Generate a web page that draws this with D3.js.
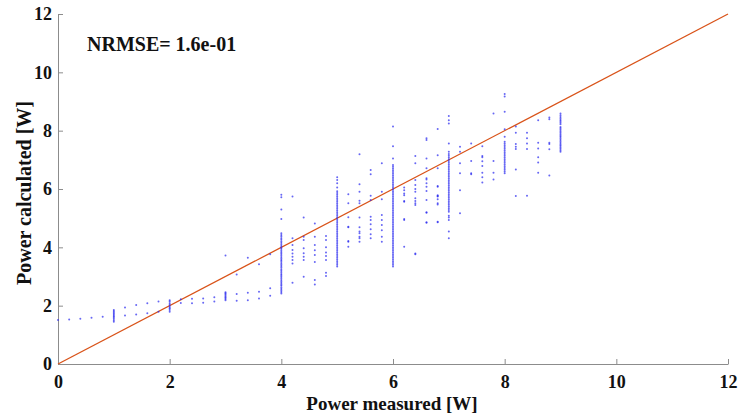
<!DOCTYPE html>
<html>
<head>
<meta charset="utf-8">
<script src="https://cdn.jsdelivr.net/npm/d3@7"></script>
<style>
  body { margin: 0; background: #fff; }
  svg text { font-family: "Liberation Serif", "Times New Roman", serif; font-weight: bold; }
</style>
</head>
<body>
<div id="wrapper"></div>
<script>
// measured power levels (x) and the calculated values read at each level (y)
const measuredLevels = [0, 0.2, 0.4, 0.6, 0.8, 1, 1.2, 1.4, 1.6, 1.8, 2, 2.2, 2.4, 2.6, 2.8, 3, 3.2, 3.4, 3.6, 3.8,
    4, 4.2, 4.4, 4.6, 4.8, 5, 5.2, 5.4, 5.6, 5.8, 6, 6.2, 6.4, 6.6, 6.8, 7, 7.2, 7.4, 7.6, 7.8, 8, 8.2, 8.4, 8.6, 8.8, 9]

const calculatedAtLevel = [
    [1.51],
    [1.53],
    [1.55],
    [1.59],
    [1.62],
    [1.45, 1.5, 1.55, 1.6, 1.64, 1.68, 1.72, 1.77, 1.81, 1.85],
    [1.66, 1.94],
    [1.70, 2.02],
    [1.74, 2.08],
    [1.79, 2.14],
    [1.79, 1.85, 1.9, 1.93, 1.98, 2.03, 2.08, 2.14, 2.19],
    [2.09, 2.22],
    [2.08, 2.24],
    [2.10, 2.25],
    [2.14, 2.29],
    [2.19, 2.23, 2.27, 2.31, 2.35, 2.39, 2.43, 2.46, 3.72],
    [2.17, 2.4, 3.07],
    [2.19, 2.44, 3.64],
    [2.25, 2.48, 3.42],
    [2.34, 2.6, 3.76],
    [2.42, 2.47, 2.52, 2.57, 2.62, 2.68, 2.73, 2.78, 2.83, 2.88, 2.94, 2.99, 3.04, 3.09, 3.15, 3.2, 3.25, 3.31,
        3.36, 3.41, 3.46, 3.52, 3.57, 3.62, 3.67, 3.73, 3.78, 3.83, 3.88, 3.94, 3.99, 4.04, 4.09, 4.15, 4.2, 4.26,
        4.31, 4.37, 4.42, 4.48, 4.97, 5.3, 5.72, 5.8],
    [2.79, 3.45, 3.57, 3.68, 3.79, 3.91, 4.08, 4.31, 5.74],
    [2.99, 3.57, 3.68, 3.8, 3.97, 4.25, 4.36, 5.02],
    [2.73, 2.88, 3.5, 3.74, 3.9, 4.08, 4.36, 4.82],
    [3.02, 3.13, 3.57, 3.7, 3.82, 4.0, 4.25, 4.39],
    [3.34, 3.4, 3.46, 3.52, 3.58, 3.64, 3.7, 3.76, 3.82, 3.88, 3.94, 4.0, 4.06, 4.12, 4.18, 4.24, 4.3, 4.36,
        4.42, 4.48, 4.54, 4.6, 4.66, 4.72, 4.78, 4.84, 4.9, 4.96, 5.02, 5.08, 5.14, 5.2, 5.26, 5.32, 5.38, 5.44,
        5.5, 5.56, 5.62, 5.68, 5.74, 5.8, 5.86, 5.92, 6.05, 6.2, 6.31, 6.4],
    [4.02, 4.19, 4.22, 4.69, 4.71, 5.03, 5.51, 5.82],
    [4.19, 4.31, 4.36, 4.48, 4.54, 4.69, 5.02, 5.51, 5.6, 5.91, 6.16, 7.19],
    [4.31, 4.45, 4.62, 4.79, 4.94, 5.05, 5.62, 5.77, 6.51, 6.65],
    [4.19, 4.36, 4.59, 4.77, 4.94, 5.11, 5.65, 5.91, 6.88],
    [3.34, 3.4, 3.46, 3.52, 3.58, 3.64, 3.7, 3.76, 3.82, 3.88, 3.94, 4.0, 4.06, 4.12, 4.18, 4.24, 4.3, 4.36,
        4.42, 4.48, 4.54, 4.6, 4.66, 4.72, 4.78, 4.84, 4.9, 4.96, 5.02, 5.08, 5.14, 5.2, 5.26, 5.32, 5.38, 5.44,
        5.5, 5.56, 5.62, 5.68, 5.74, 5.8, 5.86, 5.92, 5.98, 6.04, 6.1, 6.16, 6.22, 6.28, 6.34, 6.4, 6.46, 6.52,
        6.58, 6.64, 6.7, 6.76, 6.82, 7.05, 7.47, 8.14],
    [4.02, 4.94, 4.97, 5.56, 5.59, 5.79, 5.85, 5.96, 6.05],
    [3.76, 3.79, 5.45, 5.51, 5.59, 5.68, 5.91, 6.0, 6.14, 6.31, 6.88, 7.13],
    [4.84, 4.86, 5.19, 5.2, 5.62, 5.93, 6.08, 6.2, 6.33, 6.37, 6.71, 7.05, 7.68, 7.74],
    [4.86, 4.88, 5.47, 5.51, 5.65, 5.74, 5.76, 5.79, 6.08, 6.1, 6.71, 7.16, 8.06],
    [4.31, 4.54, 4.94, 5.02, 5.08, 5.22, 5.28, 5.34, 5.4, 5.46, 5.52, 5.58, 5.64, 5.7, 5.76, 5.82, 5.88, 5.94,
        6.0, 6.06, 6.12, 6.18, 6.24, 6.3, 6.36, 6.42, 6.48, 6.54, 6.6, 6.66, 6.72, 6.78, 6.84, 6.9, 6.96, 7.02,
        7.08, 7.14, 7.2, 7.28, 7.56, 8.25, 8.36, 8.5],
    [5.17, 5.96, 6.54, 6.88, 7.28, 7.45],
    [6.51, 6.54, 6.96, 7.56],
    [6.22, 6.4, 6.56, 6.79, 6.95, 7.09, 7.13, 7.47],
    [6.33, 6.56, 6.96, 8.59],
    [6.54, 6.6, 6.66, 6.72, 6.78, 6.84, 6.9, 6.96, 7.02, 7.08, 7.14, 7.2, 7.26, 7.32, 7.38, 7.44, 7.5, 7.56,
        7.62, 7.79, 8.05, 8.65, 9.17, 9.26],
    [5.76, 6.67, 7.37, 7.45, 7.54, 7.93, 8.14],
    [5.77, 7.37, 7.56, 7.74, 7.93],
    [6.56, 6.91, 7.09, 7.39, 7.59, 8.36],
    [6.46, 7.36, 7.54, 7.59, 8.39, 8.45],
    [7.28, 7.33, 7.38, 7.43, 7.48, 7.53, 7.58, 7.63, 7.68, 7.73, 7.78, 7.83, 7.88, 7.93, 7.98, 8.03, 8.08,
        8.13, 8.22, 8.27, 8.32, 8.37, 8.42, 8.47, 8.53, 8.59],
]

const axisTicks = [0, 2, 4, 6, 8, 10, 12]
const idealLine = [[0, 0], [12, 12]]
const nrmseLabel = 'NRMSE= 1.6e-01'

const points = measuredLevels.flatMap((m, i) =>
    calculatedAtLevel[i].map(c => ({ measured: m, calculated: c })))

let dimensions = {
    width: 738,
    height: 418,
    margin: { top: 14, right: 10, bottom: 54, left: 58 },
}
dimensions.boundedWidth = dimensions.width - dimensions.margin.left - dimensions.margin.right
dimensions.boundedHeight = dimensions.height - dimensions.margin.top - dimensions.margin.bottom

const wrapper = d3.select('#wrapper')
    .append('svg')
    .attr('width', dimensions.width)
    .attr('height', dimensions.height)

const bounds = wrapper.append('g')
    .attr('transform', `translate(${dimensions.margin.left},${dimensions.margin.top})`)

const xScale = d3.scaleLinear().domain([0, 12]).range([0, dimensions.boundedWidth])
const yScale = d3.scaleLinear().domain([0, 12]).range([dimensions.boundedHeight, 0])

// axes (ticks point inward, matlab style)
const xAxis = bounds.append('g')
    .attr('transform', `translate(0,${dimensions.boundedHeight})`)
    .call(d3.axisBottom(xScale).tickValues(axisTicks).tickSizeInner(-5).tickSizeOuter(0).tickPadding(11))
const yAxis = bounds.append('g')
    .call(d3.axisLeft(yScale).tickValues(axisTicks).tickSizeInner(-5).tickSizeOuter(0).tickPadding(6))

for (const ax of [xAxis, yAxis]) {
    ax.select('.domain').attr('stroke', '#8c8c8c')
    ax.selectAll('.tick line').attr('stroke', '#8c8c8c')
    ax.selectAll('.tick text').attr('fill', '#111').style('font-size', '18px')
        .style('font-family', '"Liberation Serif", serif').style('font-weight', 'bold')
}

// y = x reference line
bounds.append('path')
    .datum(idealLine)
    .attr('fill', 'none')
    .attr('stroke', '#d95319')
    .attr('stroke-width', 1.3)
    .attr('d', d3.line().x(d => xScale(d[0])).y(d => yScale(d[1])))

// scatter
bounds.append('g')
    .selectAll('circle')
    .data(points)
    .join('circle')
    .attr('cx', d => xScale(d.measured))
    .attr('cy', d => yScale(d.calculated))
    .attr('r', 1)
    .attr('fill', '#2626f0')
    .attr('fill-opacity', 0.7)

// labels
wrapper.append('text')
    .attr('x', 87)
    .attr('y', 51)
    .style('font-size', '20px')
    .attr('fill', '#111')
    .text(nrmseLabel)

wrapper.append('text')
    .attr('x', dimensions.margin.left + xScale(6) - 1)
    .attr('y', 410)
    .attr('text-anchor', 'middle')
    .style('font-size', '19px')
    .attr('fill', '#111')
    .text('Power measured [W]')

wrapper.append('text')
    .attr('transform', `translate(31,${dimensions.margin.top + yScale(6) + 4}) rotate(-90)`)
    .attr('text-anchor', 'middle')
    .style('font-size', '20px')
    .attr('fill', '#111')
    .text('Power calculated [W]')
</script>
</body>
</html>
